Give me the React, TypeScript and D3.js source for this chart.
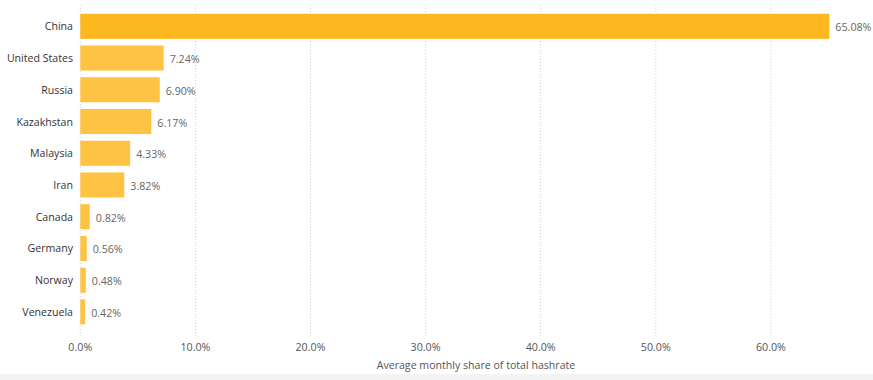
import React from "react";
import * as d3 from "d3";

const countries = ["China", "United States", "Russia", "Kazakhstan", "Malaysia", "Iran", "Canada", "Germany", "Norway", "Venezuela"];
const shares = [65.08, 7.24, 6.9, 6.17, 4.33, 3.82, 0.82, 0.56, 0.48, 0.42];
const ticks = [0, 10, 20, 30, 40, 50, 60];
const axisTitle = "Average monthly share of total hashrate";

const W = 873;
const H = 380;
const FONT = "'Segoe UI', 'Open Sans', 'Noto Sans', sans-serif";

export default function App() {
  const x = d3.scaleLinear().domain([0, 10]).range([80.3, 195.4]);
  const y = d3.scaleBand<string>().domain(countries).range([10.6, 327.6]).paddingInner(0.21).paddingOuter(0.1);
  return (
    <svg width={W} height={H} style={{ position: "absolute", left: 0, top: 0, background: "#fff" }}>
      <rect x={0} y={374} width={W} height={6} fill="#f3f3f3" />
      {ticks.map((t) => (
        <g key={t}>
          <line x1={x(t)} x2={x(t)} y1={5} y2={337} stroke="#cfcfcf" strokeWidth={1} strokeDasharray="1,2" />
          <text x={x(t)} y={351} textAnchor="middle" fontFamily={FONT} fontSize={10.7} fill="#555">
            {d3.format(".1f")(t) + "%"}
          </text>
        </g>
      ))}
      {countries.map((c, i) => {
        const yy = y(c)!;
        const h = y.bandwidth();
        return (
          <g key={c}>
            <rect x={x(0)} y={yy} width={x(shares[i]) - x(0)} height={h} fill={i === 0 ? "#fdb71f" : "#fec343"} />
            <text x={73} y={yy + h / 2 + 4} textAnchor="end" fontFamily={FONT} fontSize={10.6} fill="#333">
              {c}
            </text>
            <text x={x(shares[i]) + 6} y={yy + h / 2 + 5} textAnchor="start" fontFamily={FONT} fontSize={10.7} fill="#666">
              {d3.format(".2f")(shares[i]) + "%"}
            </text>
          </g>
        );
      })}
      <text x={476} y={369} textAnchor="middle" fontFamily={FONT} fontSize={10.6} fill="#555">
        {axisTitle}
      </text>
    </svg>
  );
}
